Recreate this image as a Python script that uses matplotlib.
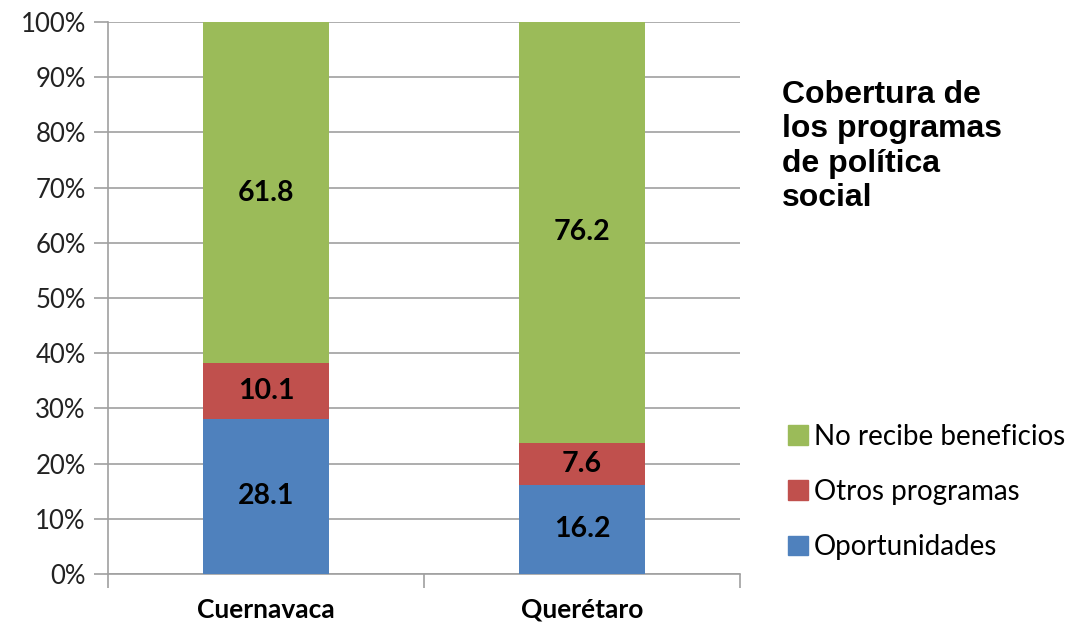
import matplotlib
matplotlib.use("Agg")
import matplotlib.pyplot as plt
from matplotlib.patches import Patch

categories = ["Cuernavaca", "Querétaro"]
series_names = ["Oportunidades", "Otros programas", "No recibe beneficios"]
oportunidades = [28.1, 16.2]
otros = [10.1, 7.6]
no_recibe = [61.8, 76.2]
colors = ["#4F81BD", "#C0504D", "#9BBB59"]
yticks = [0, 10, 20, 30, 40, 50, 60, 70, 80, 90, 100]
title = "Cobertura de\nlos programas\nde política\nsocial"

font = ["Lato", "DejaVu Sans"]
plt.rcParams["font.family"] = font

fig = plt.figure(figsize=(10.74, 6.26), dpi=100)
ax = fig.add_axes([108/1074, 1-574/626, (740-108)/1074, (574-22)/626])

x = list(range(len(categories)))
series = [oportunidades, otros, no_recibe]
bottom = [0.0]*len(categories)
for vals, c in zip(series, colors):
    ax.bar(x, vals, width=0.4, bottom=bottom, color=c, zorder=3)
    for xi, v, b in zip(x, vals, bottom):
        ax.text(xi, b + v/2, f"{v:.1f}", ha="center", va="center",
                fontsize=20.5, fontweight="bold", color="black", zorder=4)
    bottom = [b + v for b, v in zip(bottom, vals)]

ax.set_xlim(-0.5, 1.5)
ax.set_ylim(0, 100)
ax.set_yticks(yticks)
ax.set_yticklabels([f"{t}%" for t in yticks], fontsize=18.5, color="#222222")
ax.set_xticks(x)
ax.set_xticklabels(categories, fontsize=19, fontweight="bold")
ax.tick_params(axis="x", which="major", length=0, pad=17)
ax.set_xticks([-0.5, 0.5, 1.5], minor=True)
ax.tick_params(axis="x", which="minor", length=10, color="#A0A0A0", width=1.2)
ax.tick_params(axis="y", length=10, color="#A0A0A0", width=1.2, pad=6)
ax.grid(axis="y", color="#A0A0A0", linewidth=1.2, zorder=0)
for s in ["top", "right"]:
    ax.spines[s].set_visible(False)
for s in ["left", "bottom"]:
    ax.spines[s].set_color("#A0A0A0")
    ax.spines[s].set_linewidth(1.2)

fig.text(782/1074, 1-80/626, title, fontsize=23, fontweight="bold",
         family=["Liberation Sans", "DejaVu Sans"], va="top", ha="left",
         linespacing=1.19)

handles = [Patch(color=c) for c in colors[::-1]]
ax.legend(handles, series_names[::-1], loc="center left",
          bbox_to_anchor=(777/1074, 1-492/626), bbox_transform=fig.transFigure,
          frameon=False, fontsize=20, handlelength=0.72, handleheight=0.72,
          handletextpad=0.2, labelspacing=1.05, borderaxespad=0)

fig.savefig("out.png", dpi=100)
